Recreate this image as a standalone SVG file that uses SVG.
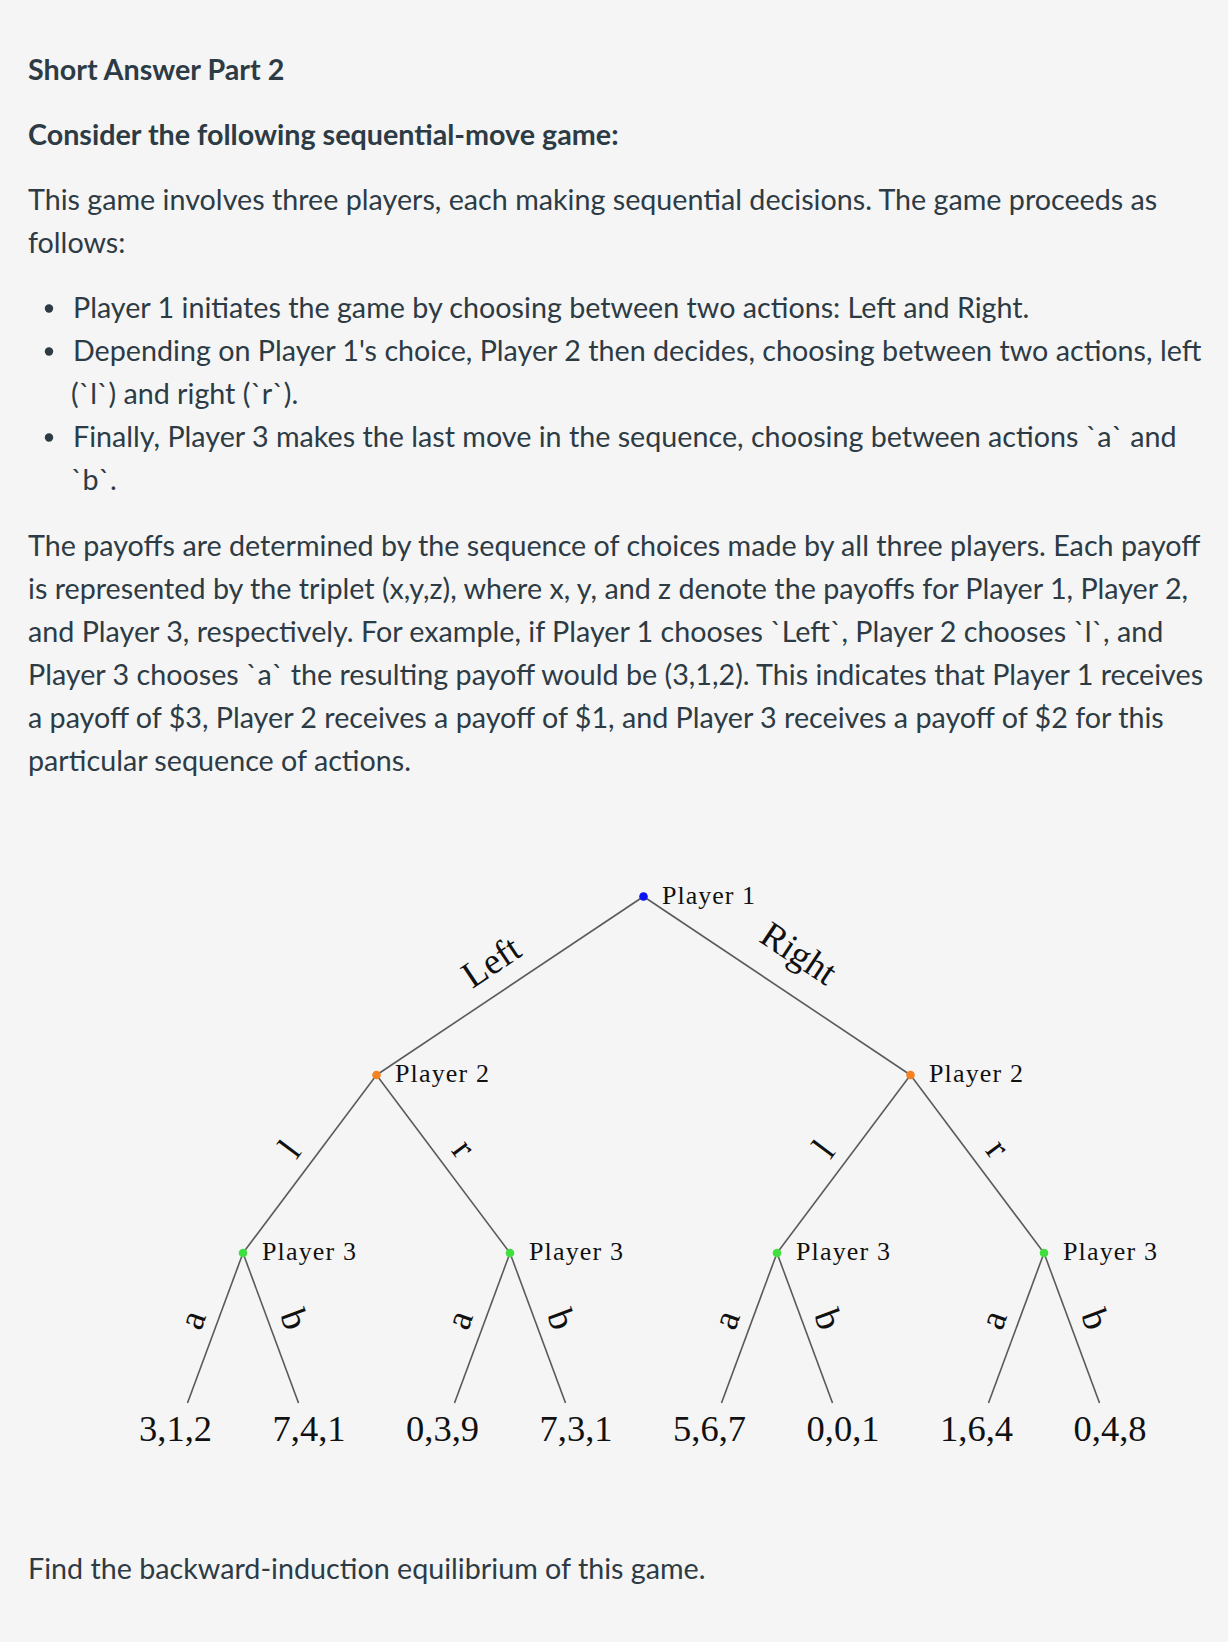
<svg xmlns="http://www.w3.org/2000/svg" width="1228" height="1642" viewBox="0 0 1228 1642">
<style>
.bg{fill:#f5f5f5}
.t{font-family:Lato,"Open Sans",sans-serif;font-size:28.7px;fill:#2d3b45}
.h{font-family:Lato,"Open Sans",sans-serif;font-size:28.7px;font-weight:bold;fill:#2d3b45}
.bul{fill:#2d3b45}
.edge{stroke:#5a5a5a;stroke-width:1.6;fill:none}
.pl{font-family:"Liberation Serif","Times New Roman",serif;font-size:26px;fill:#111}
.lab{font-family:"Liberation Serif","Times New Roman",serif;font-size:37px;fill:#111;text-anchor:middle}
.pay{font-family:"Liberation Serif","Times New Roman",serif;font-size:36.5px;fill:#111;text-anchor:middle}
.p1{fill:#0a14f0}
.p2{fill:#f5821f}
.p3{fill:#3ee03e}
</style>
<rect class="bg" x="0" y="0" width="1228" height="1642"/>

<g id="text">
<text class="h" x="28" y="80">Short Answer Part 2</text>
<text class="h" x="28" y="145">Consider the following sequential-move game:</text>
<text class="t" x="28" y="210">This game involves three players, each making sequential decisions. The game proceeds as</text>
<text class="t" x="28" y="253">follows:</text>
<circle class="bul" cx="49" cy="308.5" r="4.2"/>
<text class="t" x="73" y="318">Player 1 initiates the game by choosing between two actions: Left and Right.</text>
<circle class="bul" cx="49" cy="351.5" r="4.2"/>
<text class="t" x="73" y="361">Depending on Player 1's choice, Player 2 then decides, choosing between two actions, left</text>
<text class="t" x="71" y="404">(`l`) and right (`r`).</text>
<circle class="bul" cx="49" cy="437.5" r="4.2"/>
<text class="t" x="73" y="447">Finally, Player 3 makes the last move in the sequence, choosing between actions `a` and</text>
<text class="t" x="71" y="490">`b`.</text>
<text class="t" x="28" y="556">The payoffs are determined by the sequence of choices made by all three players. Each payoff</text>
<text class="t" x="28" y="599">is represented by the triplet (x,y,z), where x, y, and z denote the payoffs for Player 1, Player 2,</text>
<text class="t" x="28" y="642">and Player 3, respectively. For example, if Player 1 chooses `Left`, Player 2 chooses `l`, and</text>
<text class="t" x="28" y="685">Player 3 chooses `a` the resulting payoff would be (3,1,2). This indicates that Player 1 receives</text>
<text class="t" x="28" y="728">a payoff of $3, Player 2 receives a payoff of $1, and Player 3 receives a payoff of $2 for this</text>
<text class="t" x="28" y="771">particular sequence of actions.</text>
<text class="t" x="28" y="1579">Find the backward-induction equilibrium of this game.</text>
</g>

<g id="connectors">
<line class="edge" x1="643.5" y1="896.5" x2="376.5" y2="1075"/>
<line class="edge" x1="643.5" y1="896.5" x2="910.5" y2="1075"/>
<line class="edge" x1="376.5" y1="1075" x2="243" y2="1253"/>
<line class="edge" x1="376.5" y1="1075" x2="510" y2="1253"/>
<line class="edge" x1="910.5" y1="1075" x2="777" y2="1253"/>
<line class="edge" x1="910.5" y1="1075" x2="1044" y2="1253"/>
<line class="edge" x1="243" y1="1253" x2="187.5" y2="1403"/>
<line class="edge" x1="243" y1="1253" x2="298.5" y2="1403"/>
<line class="edge" x1="510" y1="1253" x2="454.5" y2="1403"/>
<line class="edge" x1="510" y1="1253" x2="565.5" y2="1403"/>
<line class="edge" x1="777" y1="1253" x2="721.5" y2="1403"/>
<line class="edge" x1="777" y1="1253" x2="832.5" y2="1403"/>
<line class="edge" x1="1044" y1="1253" x2="988.5" y2="1403"/>
<line class="edge" x1="1044" y1="1253" x2="1099.5" y2="1403"/>
<text class="lab" transform="translate(498,972) rotate(-33.69)">Left</text>
<text class="lab" transform="translate(792,963.5) rotate(33.69)">Right</text>
<text class="lab" transform="translate(299.3,1156.2) rotate(-53.13)">l</text>
<text class="lab" transform="translate(454.2,1155.6) rotate(53.13)">r</text>
<text class="lab" transform="translate(833.3,1156.2) rotate(-53.13)">l</text>
<text class="lab" transform="translate(988.2,1155.6) rotate(53.13)">r</text>
<text class="lab" transform="translate(203.5,1323.7) rotate(-69.7)">a</text>
<text class="lab" transform="translate(283,1323.5) rotate(69.7)">b</text>
<text class="lab" transform="translate(470.5,1323.7) rotate(-69.7)">a</text>
<text class="lab" transform="translate(550,1323.5) rotate(69.7)">b</text>
<text class="lab" transform="translate(737.5,1323.7) rotate(-69.7)">a</text>
<text class="lab" transform="translate(817,1323.5) rotate(69.7)">b</text>
<text class="lab" transform="translate(1004.5,1323.7) rotate(-69.7)">a</text>
<text class="lab" transform="translate(1084,1323.5) rotate(69.7)">b</text>
</g>

<g id="node-p1">
<circle class="p1" cx="643.5" cy="896.5" r="4.3"/>
<text class="pl" x="662" y="903.5" textLength="93">Player 1</text>
</g>
<g id="node-p2-left">
<circle class="p2" cx="376.5" cy="1075" r="4.3"/>
<text class="pl" x="395" y="1082" textLength="94">Player 2</text>
</g>
<g id="node-p2-right">
<circle class="p2" cx="910.5" cy="1075" r="4.3"/>
<text class="pl" x="929" y="1082" textLength="94">Player 2</text>
</g>
<g id="node-p3-1">
<circle class="p3" cx="243" cy="1253" r="4.3"/>
<text class="pl" x="262" y="1260" textLength="94">Player 3</text>
</g>
<g id="node-p3-2">
<circle class="p3" cx="510" cy="1253" r="4.3"/>
<text class="pl" x="529" y="1260" textLength="94">Player 3</text>
</g>
<g id="node-p3-3">
<circle class="p3" cx="777" cy="1253" r="4.3"/>
<text class="pl" x="796" y="1260" textLength="94">Player 3</text>
</g>
<g id="node-p3-4">
<circle class="p3" cx="1044" cy="1253" r="4.3"/>
<text class="pl" x="1063" y="1260" textLength="94">Player 3</text>
</g>
<g id="leaf-1"><text class="pay" x="175.5" y="1441">3,1,2</text></g>
<g id="leaf-2"><text class="pay" x="309" y="1441">7,4,1</text></g>
<g id="leaf-3"><text class="pay" x="442.5" y="1441">0,3,9</text></g>
<g id="leaf-4"><text class="pay" x="576" y="1441">7,3,1</text></g>
<g id="leaf-5"><text class="pay" x="709.5" y="1441">5,6,7</text></g>
<g id="leaf-6"><text class="pay" x="843" y="1441">0,0,1</text></g>
<g id="leaf-7"><text class="pay" x="976.5" y="1441">1,6,4</text></g>
<g id="leaf-8"><text class="pay" x="1110" y="1441">0,4,8</text></g>
</svg>
